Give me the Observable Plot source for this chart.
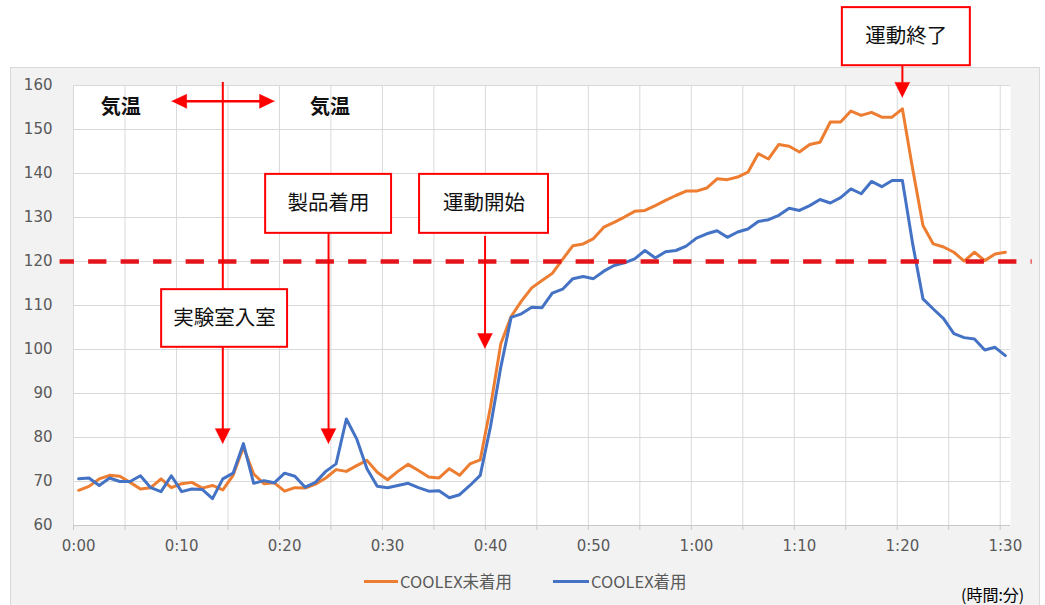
<!DOCTYPE html>
<html>
<head>
<meta charset="utf-8">
<script src="https://cdn.jsdelivr.net/npm/d3@7"></script>
<script src="https://cdn.jsdelivr.net/npm/@observablehq/plot@0.6"></script>
<style>
  body { margin: 0; background: #fff; font-family: "Noto Sans CJK JP", sans-serif; }
  #wrap { position: relative; width: 1045px; height: 605px; overflow: hidden; }
  #panel { position: absolute; left: 10px; top: 67px; width: 1030px; height: 560px;
           background: #f2f2f2; border: 1px solid #d9d9d9; box-sizing: border-box; }
  #chart { position: absolute; left: 0; top: 0; }
  .key { position: absolute; top: 569px; font-size: 16.5px; color: #595959; line-height: 24px; white-space: nowrap; }
  .swatch { position: absolute; top: 580px; height: 3px; }
  #unit { position: absolute; left: 961px; top: 583px; font-size: 16px; color: #000; line-height: 22px; white-space: nowrap; }
</style>
</head>
<body>
<div id="wrap">
  <div id="panel"></div>
  <div id="chart"></div>
  <div class="swatch" style="left:364px;width:34px;background:#ed7d31"></div>
  <div class="key" id="key0" style="left:400px"></div>
  <div class="swatch" style="left:553px;width:36px;background:#4472c4"></div>
  <div class="key" id="key1" style="left:591px"></div>
  <div id="unit">(時間:分)</div>
</div>
<script>
// Elapsed time in minutes (one reading per minute)
const minutes = d3.range(0, 91);

// Heart rate without COOLEX
const withoutCoolex = [
  68.0, 68.9, 70.6, 71.4, 71.2, 69.8, 68.3, 68.6, 70.6, 68.6,
  69.5, 69.8, 68.5, 69.1, 68.1, 71.4, 77.8, 71.7, 69.5, 69.7,
  67.8, 68.6, 68.5, 69.4, 70.8, 72.7, 72.3, 73.6, 74.8, 72.1,
  70.4, 72.3, 73.9, 72.5, 71.0, 70.8, 72.9, 71.4, 74.0, 74.9,
  87.0, 101.3, 107.5, 111.0, 114.0, 115.7, 117.3, 120.5, 123.6, 124.0,
  125.2, 127.8, 128.9, 130.1, 131.4, 131.6, 132.7, 133.9, 135.0, 136.0,
  136.0, 136.7, 138.8, 138.6, 139.2, 140.3, 144.5, 143.3, 146.6, 146.2,
  144.9, 146.6, 147.1, 151.7, 151.7, 154.2, 153.2, 153.9, 152.8, 152.8,
  154.7, 141.0, 128.2, 124.0, 123.3, 122.1, 120.1, 122.1, 120.2, 121.7,
  122.1
];

// Heart rate with COOLEX
const withCoolex = [
  70.6, 70.8, 69.1, 70.8, 70.0, 70.0, 71.3, 68.6, 67.7, 71.3,
  67.7, 68.3, 68.2, 66.1, 70.6, 71.9, 78.6, 69.6, 70.2, 69.7,
  71.9, 71.2, 68.7, 69.8, 72.3, 74.0, 84.2, 79.7, 72.9, 68.9,
  68.6, 69.1, 69.6, 68.6, 67.8, 67.9, 66.3, 67.0, 69.1, 71.4,
  82.5, 96.0, 107.3, 108.1, 109.6, 109.5, 112.8, 113.7, 116.1, 116.6,
  116.1, 117.8, 119.1, 119.7, 120.6, 122.5, 120.8, 122.2, 122.5, 123.5,
  125.3, 126.3, 127.0, 125.5, 126.7, 127.4, 129.1, 129.5, 130.5, 132.1,
  131.6, 132.7, 134.1, 133.3, 134.5, 136.5, 135.4, 138.2, 137.0, 138.4,
  138.4, 124.0, 111.5, 109.2, 107.0, 103.6, 102.7, 102.4, 99.9, 100.5,
  98.6
];

const seriesNames = ["COOLEX未着用", "COOLEX着用"];
const seriesColors = ["#ed7d31", "#4472c4"];
const yTicks = d3.range(60, 161, 10);
const xTicks = d3.range(0, 91, 10);
const threshold = 120;

const fmtTime = m => `${Math.floor(m / 60)}:${String(m % 60).padStart(2, "0")}`;

const rows = [
  ...minutes.map((m, i) => ({minute: m, heartRate: withoutCoolex[i], series: seriesNames[0]})),
  ...minutes.map((m, i) => ({minute: m, heartRate: withCoolex[i], series: seriesNames[1]}))
];

// Category boundaries every 5 minutes (grid)
const gridX = d3.range(-0.5, 90, 5);

// Callout boxes, in minutes / heart-rate units
const boxes = [
  {label: "実験室入室", x1: 8.06, x2: 20.29, y1: 100.5, y2: 113.6},
  {label: "製品着用", x1: 18.16, x2: 30.39, y1: 126.4, y2: 139.8},
  {label: "運動開始", x1: 33.11, x2: 45.63, y1: 126.4, y2: 139.8},
  {label: "運動終了", x1: 74.17, x2: 86.6, y1: 164.5, y2: 177.7}
];
// Arrow shafts
const shafts = [
  {x: 14.0, y1: 160.7, y2: 113.6},
  {x: 14.0, y1: 100.5, y2: 81.5},
  {x: 24.27, y1: 126.4, y2: 81.5},
  {x: 39.47, y1: 125.7, y2: 103.2},
  {x: 80.0, y1: 164.5, y2: 160.5}
];
// Downward arrow heads: tip position
const downTips = [
  {x: 14.0, y: 78.6},
  {x: 24.27, y: 78.6},
  {x: 39.47, y: 100.2},
  {x: 80.0, y: 157.3}
];
// Horizontal double arrow (air temperature span)
const spanArrow = {y: 156.4, left: 9.03, right: 19.03};
const airTemp = [{x: 4.1, y: 155.0}, {x: 24.4, y: 155.0}];

const headLen = 1.46;   // minutes
const headHalfW = 0.73; // minutes
const headLenY = 3.41;  // bpm
const headHalfH = 1.6;  // bpm

const heads = [];
downTips.forEach((t, i) => {
  heads.push({id: "d" + i, x: t.x, y: t.y});
  heads.push({id: "d" + i, x: t.x - headHalfW, y: t.y + headLenY});
  heads.push({id: "d" + i, x: t.x + headHalfW, y: t.y + headLenY});
});
heads.push({id: "l", x: spanArrow.left, y: spanArrow.y});
heads.push({id: "l", x: spanArrow.left + headLen, y: spanArrow.y + headHalfH});
heads.push({id: "l", x: spanArrow.left + headLen, y: spanArrow.y - headHalfH});
heads.push({id: "r", x: spanArrow.right, y: spanArrow.y});
heads.push({id: "r", x: spanArrow.right - headLen, y: spanArrow.y + headHalfH});
heads.push({id: "r", x: spanArrow.right - headLen, y: spanArrow.y - headHalfH});

const red = "#ff0000";

const chart = Plot.plot({
  width: 1045,
  height: 560,
  marginLeft: 73,
  marginRight: 35,
  marginTop: 85,
  marginBottom: 35,
  style: {background: "transparent", fontFamily: "DejaVu Sans", overflow: "visible"},
  x: {domain: [-0.5, 90.5]},
  y: {domain: [60, 160]},
  color: {domain: seriesNames, range: seriesColors},
  marks: [
    Plot.frame({fill: "white", stroke: null}),
    Plot.gridY(yTicks, {stroke: "#d9d9d9", strokeOpacity: 1, strokeWidth: 1}),
    Plot.ruleX(gridX, {stroke: "#d9d9d9", strokeWidth: 1}),
    Plot.ruleY([60], {stroke: "#c8c8c8", strokeWidth: 1}),
    Plot.ruleX(gridX, {y1: 60, y2: 58.85, stroke: "#c8c8c8"}),
    Plot.axisX(xTicks, {tickSize: 0, tickPadding: 15, tickFormat: fmtTime, fontSize: 15, fill: "#595959", label: null}),
    Plot.axisY(yTicks, {tickSize: 0, tickPadding: 21, fontSize: 15, fill: "#595959", label: null}),
    Plot.line(rows, {x: "minute", y: "heartRate", z: "series", stroke: "series", strokeWidth: 3, strokeLinejoin: "round", strokeLinecap: "round"}),
    Plot.ruleY([{y: threshold, x1: -1.8, x2: 92.6}], {y: "y", x1: "x1", x2: "x2", stroke: "#e3141b", strokeWidth: 4.5, strokeDasharray: "18.3,14.2", strokeDashoffset: 4}),
    Plot.ruleX(shafts, {x: "x", y1: "y1", y2: "y2", stroke: red, strokeWidth: 2}),
    Plot.ruleY([spanArrow], {y: "y", x1: d => d.left + 1, x2: d => d.right - 1, stroke: red, strokeWidth: 2.5}),
    Plot.line(heads, {x: "x", y: "y", z: "id", fill: red, stroke: red, strokeWidth: 0.5}),
    Plot.rect(boxes, {x1: "x1", x2: "x2", y1: "y1", y2: "y2", fill: "white", stroke: red, strokeWidth: 2}),
    Plot.text(boxes, {x: d => (d.x1 + d.x2) / 2, y: d => (d.y1 + d.y2) / 2, text: "label", fontSize: 20.5, fontWeight: 400, fill: "#111", fontFamily: "Noto Sans CJK JP"}),
    Plot.text(airTemp, {x: "x", y: "y", text: () => "気温", fontSize: 20, fontWeight: 700, fill: "#111", fontFamily: "Noto Sans CJK JP"})
  ]
});

document.getElementById("chart").appendChild(chart);
document.getElementById("key0").textContent = seriesNames[0];
document.getElementById("key1").textContent = seriesNames[1];
</script>
</body>
</html>
